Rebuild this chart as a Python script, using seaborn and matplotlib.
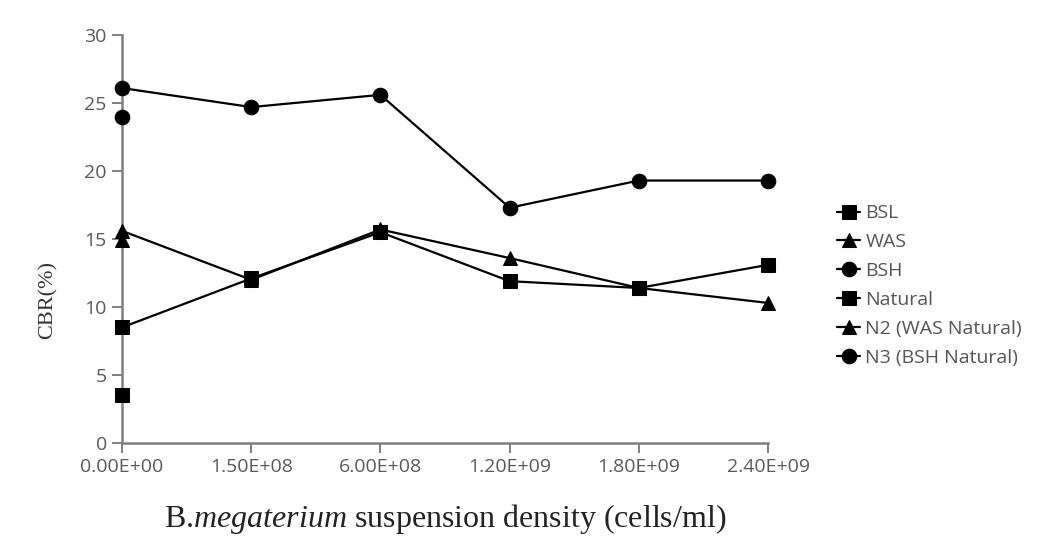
import matplotlib
matplotlib.use("Agg")
import matplotlib.pyplot as plt
import seaborn as sns
import pandas as pd

# Bacterial suspension densities (cells/ml), plotted as evenly spaced categories
densities = ["0.00E+00", "1.50E+08", "6.00E+08", "1.20E+09", "1.80E+09", "2.40E+09"]

# CBR (%) for the treated soils
bsl = [8.5, 12.1, 15.5, 11.9, 11.4, 13.1]
was = [15.6, 12.0, 15.7, 13.6, 11.4, 10.3]
bsh = [26.1, 24.7, 25.6, 17.3, 19.3, 19.3]

# CBR (%) of the untreated natural soils (single values at zero density)
natural = [3.5]
n2 = [14.9]
n3 = [24.0]

series_names = ["BSL", "WAS", "BSH", "Natural", "N2 (WAS Natural)", "N3 (BSH Natural)"]
series_values = [bsl, was, bsh, natural, n2, n3]
series_markers = ["s", "^", "o", "s", "^", "o"]

sns.set_theme(style="white")
plt.rcParams["font.family"] = ["Open Sans", "DejaVu Sans"]
plt.rcParams["mathtext.fontset"] = "custom"
plt.rcParams["mathtext.rm"] = "Liberation Serif"
plt.rcParams["mathtext.it"] = "Liberation Serif:italic"

fig = plt.figure(figsize=(10.63, 5.41), dpi=100)
ax = fig.add_axes([0.1148, 0.1811, 0.6077, 0.7542])

for name, vals, mk in zip(series_names, series_values, series_markers):
    df = pd.DataFrame({"pos": range(len(vals)), "cbr": vals})
    sns.lineplot(data=df, x="pos", y="cbr", ax=ax, color="black", linewidth=1.6,
                 marker=mk, markersize=10 if mk != "o" else 10.5,
                 markeredgecolor="black", markerfacecolor="black",
                 label=name, clip_on=False, zorder=3)

ax.set_xlim(0, len(densities) - 1)
ax.set_ylim(0, 30)
ax.set_xticks(range(len(densities)))
ax.set_xticklabels(densities)
ax.set_yticks(range(0, 31, 5))

for side in ("top", "right"):
    ax.spines[side].set_visible(False)
for side in ("left", "bottom"):
    ax.spines[side].set_color("#7f7f7f")
    ax.spines[side].set_linewidth(1.8)
    ax.spines[side].set_zorder(2)

ax.tick_params(axis="both", which="major", direction="out", length=7, width=1.4,
               color="#7f7f7f", labelsize=14, labelcolor="#5a5a5a", pad=4,
               bottom=True, left=True)

ax.set_xlabel("")
ax.set_ylabel("CBR(%)", family="Liberation Serif", fontsize=16, color="#333333")
ax.yaxis.set_label_coords(-0.10, 0.35)

# x-axis title with the italic species name
fig.text(0.419, 0.026, r"B.$\mathit{megaterium}$ suspension density (cells/ml)",
         ha="center", va="baseline", fontsize=23, color="#222222",
         family="Liberation Serif")

handles, labels = ax.get_legend_handles_labels()
leg = ax.legend(handles, labels, loc="center left", bbox_to_anchor=(1.095, 0.386),
                frameon=False, fontsize=14, handlelength=1.2, handletextpad=0.25,
                labelspacing=0.56, borderaxespad=0)
for t in leg.get_texts():
    t.set_color("#555555")

fig.savefig("out.png", dpi=100, facecolor="white")
